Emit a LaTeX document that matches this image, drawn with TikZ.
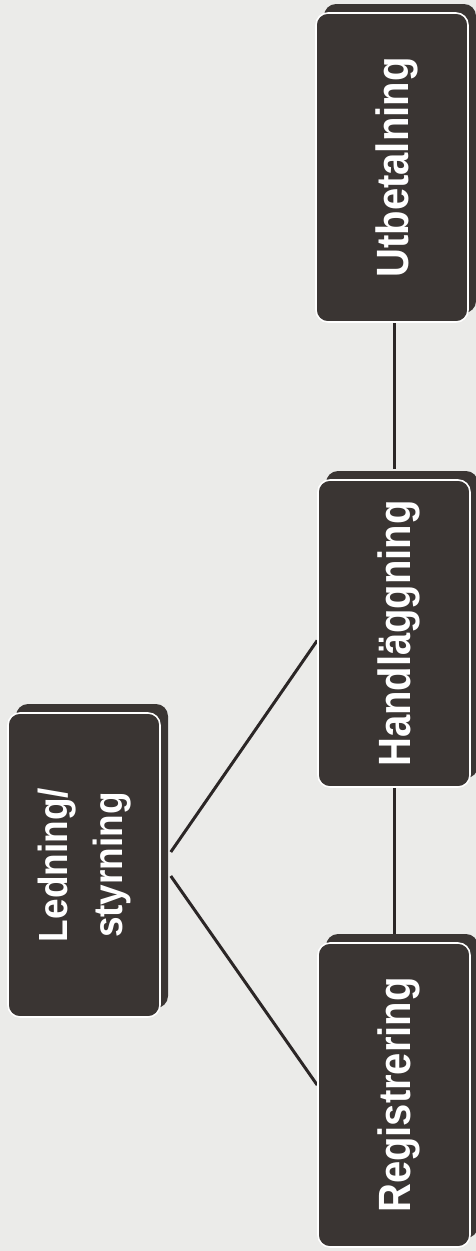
\documentclass[tikz,border=0pt]{standalone}
\usepackage{fontspec}
\usetikzlibrary{shadows}
\newfontfamily\boxfont{Liberation Sans}
\definecolor{bg}{HTML}{EBEBE9}
\definecolor{boxdark}{HTML}{3A3533}
\definecolor{linedark}{HTML}{2B2626}
\pgfdeclarelayer{background}
\pgfsetlayers{background,main}
\newcommand{\boxtext}[1]{\rotatebox{90}{\scalebox{1}[1.13]{\fontsize{40}{48}\selectfont\boxfont\bfseries\raisebox{0pt}[\height][0pt]{#1}}}}
\tikzset{
  procbox/.style={rectangle, rounded corners=12pt, fill=boxdark, draw=white,
    line width=1.6pt, minimum width=152pt, minimum height=306pt, inner sep=0pt,
    text=white,
    copy shadow={shadow xshift=8pt, shadow yshift=9pt, fill=boxdark, draw=none}},
  conn/.style={draw=linedark, line width=3pt}
}
\begin{document}
\begin{tikzpicture}[x=1pt, y=-1pt]
\useasboundingbox (0,0) rectangle (476,1251);
% nodes
\node[procbox, minimum height=304pt] (led) at (84,865)
  {\rotatebox{90}{\scalebox{1}[1.1]{\fontsize{37}{50}\selectfont\boxfont\bfseries\begin{tabular}{@{}c@{}}Ledning/\\styrning\end{tabular}}}};
\node[procbox, minimum height=304pt] (reg) at (394,1095) {\boxtext{Registrering}};
\node[procbox, minimum height=307pt] (hand) at (394,633.5) {\boxtext{Handläggning}};
\node[procbox, minimum height=309pt] (utb) at (392,167.5) {\boxtext{Utbetalning}};
% background and connectors (behind boxes)
\begin{pgfonlayer}{background}
\fill[bg] (0,0) rectangle (476,1251);
\draw[conn] ([shift={(10pt,13pt)}]led.east) -- ([yshift=-7pt]hand.west);
\draw[conn] ([shift={(10pt,-11pt)}]led.east) -- ([yshift=10pt]reg.west);
\draw[conn] (hand.south) -- (reg.north);
\draw[conn] ([yshift=10pt]hand.north) -- (hand.north |- utb.south);
\end{pgfonlayer}
\end{tikzpicture}
\end{document}
